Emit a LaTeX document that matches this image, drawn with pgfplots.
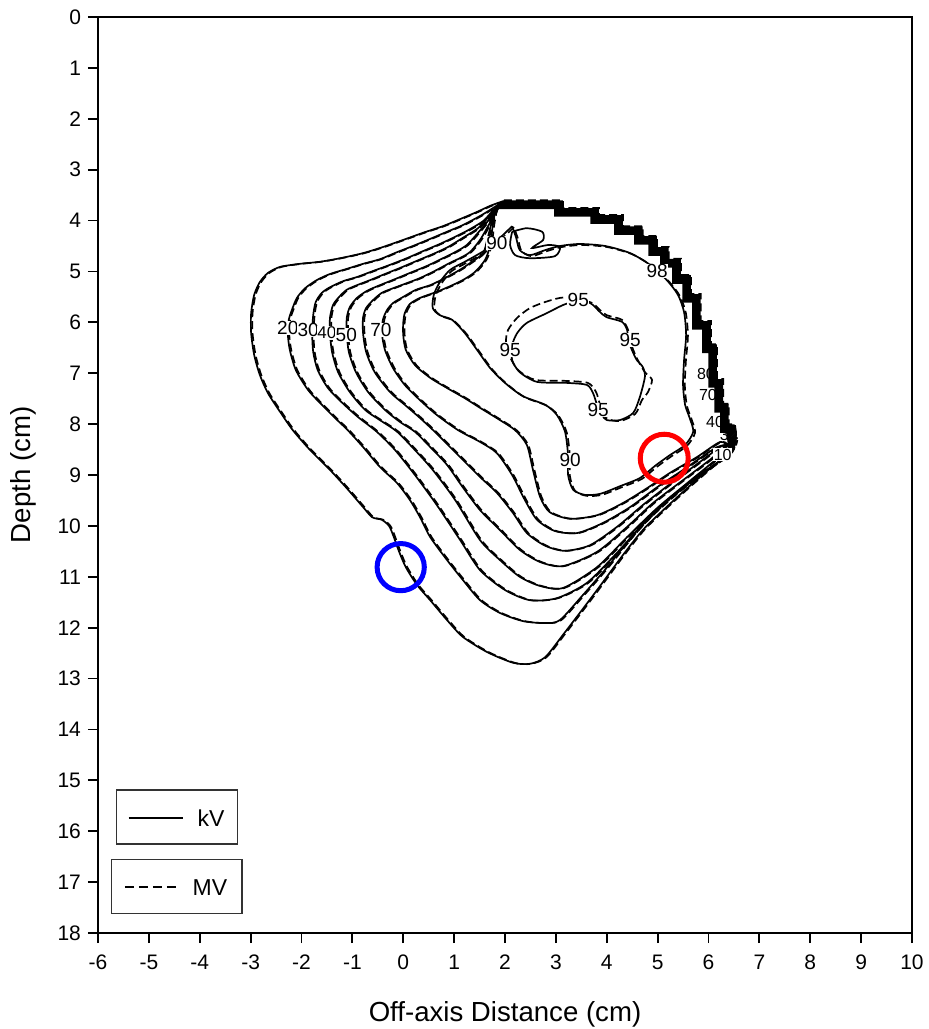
\documentclass[border=0pt]{standalone}
\usepackage{fontspec}
\setmainfont{Liberation Sans}
\usepackage{pgfplots}
\usepackage{pgfplotstable}
\pgfplotsset{compat=1.18}
\tikzset{
  kv/.style={black, line width=0.85pt, smooth, tension=0.45},
  mv/.style={black, line width=0.85pt, smooth, tension=0.45, dash pattern=on 4pt off 2pt},
  st/.style={black, line width=0.8pt},
  lab/.style={fill=white, inner sep=0.3pt, font=\fontsize{9.5}{10}\selectfont},
  rlab/.style={inner sep=0pt, font=\fontsize{8}{8}\selectfont},
}

\pgfplotstableread{
x y
1.96 3.62
3.12 3.62
3.12 3.77
3.83 3.77
3.83 3.91
4.30 3.91
4.30 4.13
4.69 4.13
4.69 4.32
4.97 4.32
4.97 4.54
5.20 4.54
5.20 4.77
5.44 4.77
5.44 5.09
5.64 5.09
5.64 5.46
5.83 5.46
5.83 5.99
6.03 5.99
6.03 6.45
6.15 6.45
6.15 7.13
6.27 7.13
6.27 7.62
6.38 7.62
6.38 8.02
6.50 8.02
6.54 8.31
}\stairs

\pgfplotstableread{
x y
1.96 3.62
1.71 3.71
1.45 3.83
1.12 3.97
0.78 4.11
0.39 4.24
0.00 4.38
-0.40 4.52
-0.79 4.64
-1.24 4.74
-1.64 4.81
-2.03 4.85
-2.42 4.91
-2.66 5.03
-2.82 5.21
-2.93 5.46
-2.99 5.82
-2.99 6.21
-2.93 6.64
-2.82 7.03
-2.66 7.39
-2.42 7.76
-2.17 8.12
-1.83 8.51
-1.44 8.90
-1.11 9.26
-0.79 9.63
-0.61 9.83
-0.42 9.88
-0.28 10.00
-0.20 10.18
-0.08 10.51
0.05 10.81
0.27 11.16
0.53 11.46
0.86 11.85
1.17 12.18
1.65 12.48
2.16 12.69
2.49 12.71
2.79 12.58
3.14 12.14
3.47 11.71
3.81 11.26
4.32 10.57
4.71 10.08
5.11 9.69
5.58 9.26
6.09 8.82
6.36 8.63
6.50 8.45
6.54 8.31
}\cten

\pgfplotstableread{
x y
1.94 3.64
1.74 3.77
1.51 3.91
1.17 4.09
0.86 4.22
0.53 4.36
0.19 4.50
-0.12 4.62
-0.46 4.76
-0.79 4.85
-1.11 4.95
-1.44 5.05
-1.70 5.17
-1.93 5.33
-2.09 5.52
-2.19 5.76
-2.25 5.95
-2.27 6.21
-2.23 6.54
-2.11 6.94
-1.87 7.33
-1.60 7.62
-1.34 7.88
-1.09 8.12
-0.79 8.45
-0.46 8.84
-0.12 9.16
0.13 9.49
0.33 9.83
0.53 10.22
0.86 10.67
1.17 11.06
1.51 11.46
1.90 11.71
2.35 11.87
2.79 11.91
3.08 11.85
3.53 11.36
4.01 10.81
4.60 10.08
5.19 9.49
5.77 9.04
6.17 8.76
6.44 8.55
6.52 8.33
}\ctwenty

\pgfplotstableread{
x y
1.92 3.65
1.74 3.83
1.57 4.01
1.31 4.17
1.06 4.30
0.72 4.46
0.39 4.60
0.07 4.74
-0.26 4.87
-0.59 4.99
-0.91 5.11
-1.18 5.19
-1.44 5.31
-1.60 5.42
-1.72 5.60
-1.77 5.86
-1.79 6.21
-1.77 6.58
-1.68 6.94
-1.48 7.29
-1.20 7.58
-0.89 7.86
-0.52 8.15
-0.16 8.51
0.23 9.00
0.66 9.59
1.12 10.28
1.51 10.87
2.00 11.26
2.49 11.46
3.02 11.42
3.61 11.12
4.20 10.53
4.79 9.88
5.38 9.35
5.97 8.90
6.40 8.59
6.50 8.35
}\cthirty

\pgfplotstableread{
x y
1.90 3.67
1.71 3.89
1.47 4.15
1.17 4.34
0.88 4.52
0.58 4.66
0.27 4.79
-0.06 4.93
-0.36 5.05
-0.65 5.17
-0.91 5.27
-1.11 5.36
-1.26 5.50
-1.38 5.66
-1.44 5.91
-1.44 6.21
-1.40 6.58
-1.28 6.98
-1.05 7.37
-0.75 7.72
-0.46 7.92
-0.12 8.15
0.23 8.51
0.58 8.90
1.02 9.49
1.51 10.28
1.90 10.67
2.29 11.00
2.69 11.18
3.14 11.22
3.81 10.81
4.40 10.22
4.99 9.65
5.58 9.16
6.07 8.76
6.36 8.51
6.48 8.37
}\cforty

\pgfplotstableread{
x y
1.88 3.69
1.71 3.95
1.47 4.24
1.25 4.48
1.02 4.62
0.78 4.74
0.47 4.89
0.13 5.03
-0.16 5.15
-0.46 5.27
-0.71 5.38
-0.91 5.52
-1.05 5.70
-1.11 5.91
-1.11 6.21
-1.07 6.58
-0.93 6.98
-0.69 7.37
-0.36 7.72
-0.06 7.96
0.23 8.15
0.53 8.45
0.86 8.80
1.17 9.24
1.51 9.69
1.90 10.08
2.29 10.47
2.69 10.71
3.14 10.79
3.81 10.51
4.40 10.02
4.91 9.55
5.50 9.10
6.03 8.70
6.32 8.45
6.46 8.39
}\cfifty

\pgfplotstableread{
x y
1.86 3.71
1.71 4.03
1.51 4.38
1.31 4.62
1.11 4.74
0.92 4.83
0.62 4.99
0.33 5.13
0.07 5.23
-0.20 5.33
-0.42 5.42
-0.59 5.56
-0.73 5.72
-0.79 5.91
-0.79 6.21
-0.73 6.58
-0.56 6.98
-0.26 7.37
0.03 7.62
0.33 7.88
0.62 8.15
0.92 8.45
1.21 8.74
1.51 9.04
1.84 9.35
2.16 9.75
2.43 10.14
2.79 10.39
3.18 10.49
3.67 10.38
4.20 10.02
4.71 9.59
5.24 9.18
5.89 8.70
6.26 8.43
6.44 8.41
}\csixty

\pgfplotstableread{
x y
1.84 3.73
1.74 4.03
1.65 4.38
1.57 4.64
1.35 4.81
1.11 4.97
0.82 5.13
0.53 5.27
0.25 5.36
0.00 5.50
-0.20 5.62
-0.32 5.76
-0.40 5.95
-0.42 6.21
-0.36 6.54
-0.20 6.90
0.03 7.23
0.33 7.53
0.66 7.82
1.08 8.12
1.51 8.35
1.84 8.57
2.14 9.00
2.39 9.49
2.63 9.88
2.98 10.10
3.42 10.14
3.93 9.94
4.46 9.63
4.99 9.24
5.50 8.90
6.17 8.45
6.42 8.43
}\cseventy

\pgfplotstableread{
x y
1.82 3.75
1.76 4.09
1.71 4.48
1.61 4.77
1.41 5.01
1.17 5.17
0.92 5.29
0.66 5.40
0.33 5.52
0.13 5.64
0.03 5.82
0.00 6.01
0.00 6.25
0.05 6.54
0.23 6.84
0.53 7.09
0.86 7.29
1.21 7.49
1.51 7.68
1.90 7.92
2.20 8.12
2.43 8.41
2.55 8.90
2.69 9.43
2.88 9.73
3.28 9.86
3.81 9.79
4.32 9.55
4.79 9.26
5.24 8.96
5.77 8.65
6.23 8.35
6.40 8.45
}\ceighty

\pgfplotstableread{
x y
2.14 4.11
1.90 4.34
1.61 4.58
1.21 4.81
0.92 4.97
0.72 5.21
0.60 5.46
0.58 5.72
0.72 5.86
0.96 5.95
1.21 6.21
1.45 6.54
1.71 6.90
2.00 7.19
2.35 7.45
2.79 7.62
3.02 7.82
3.18 8.15
3.24 8.61
3.24 9.00
3.34 9.29
3.57 9.39
3.87 9.37
4.26 9.22
4.65 9.06
4.95 8.82
5.24 8.61
5.54 8.41
5.70 8.15
5.63 7.88
5.54 7.62
5.50 7.23
5.52 6.74
5.56 6.25
5.52 5.80
5.40 5.46
5.18 5.17
4.85 4.87
4.46 4.64
3.97 4.50
3.47 4.46
3.08 4.50
2.79 4.58
2.49 4.68
2.29 4.58
2.22 4.34
2.14 4.11
}\cninety

\pgfplotstableread{
x y
2.14 4.22
2.43 4.15
2.73 4.22
2.75 4.38
2.53 4.54
2.85 4.48
3.08 4.52
2.98 4.70
2.49 4.74
2.20 4.68
2.10 4.48
2.14 4.22
}\island

\pgfplotstableread{
x y
3.44 5.56
3.14 5.66
2.82 5.82
2.43 6.01
2.24 6.21
2.14 6.45
2.14 6.74
2.29 6.98
2.63 7.17
3.22 7.19
3.61 7.23
3.73 7.39
3.81 7.62
3.91 7.82
4.00 7.92
4.26 7.92
4.52 7.78
4.65 7.47
4.75 7.07
4.71 6.88
4.59 6.74
4.52 6.60
4.42 6.35
4.40 6.15
4.30 5.99
4.00 5.90
3.87 5.80
3.73 5.66
3.63 5.60
3.44 5.56
}\cninetyfive

\pgfplotstableread{
x y
3.38 5.50
3.08 5.52
2.79 5.60
2.49 5.72
2.24 5.91
2.06 6.15
2.02 6.39
2.10 6.68
2.26 6.94
2.59 7.13
3.18 7.15
3.63 7.19
3.79 7.37
3.87 7.62
3.99 7.88
4.26 7.94
4.56 7.80
4.69 7.53
4.81 7.37
4.89 7.13
4.75 6.98
4.61 6.74
4.52 6.54
4.46 6.35
4.42 6.15
4.30 5.95
4.00 5.86
3.87 5.76
3.71 5.62
3.38 5.50
}\mvninetyfive

\begin{document}
\begin{tikzpicture}
\begin{axis}[
  scale only axis,
  width=407pt, height=458pt,
  xmin=-6, xmax=10, ymin=0, ymax=18,
  y dir=reverse,
  xtick={-6,-5,...,10}, ytick={0,1,...,18},
  tick align=outside, major tick length=5pt,
  xtick pos=left, ytick pos=left,
  axis line style={line width=0.9pt},
  every tick/.style={black, line width=0.9pt},
  /pgf/number format/assume math mode=true,
  tick label style={font=\fontsize{10.5}{12}\selectfont},
  xticklabel style={yshift=-2.5pt},
  label style={font=\fontsize{13.8}{16}\selectfont},
  xlabel={Off-axis Distance (cm)},
  ylabel={Depth (cm)},
  xlabel style={at={(axis description cs:0.5,-0.089)}, anchor=center},
  ylabel style={at={(axis description cs:-0.092,0.5)}, anchor=center},
]
% staircase band (shared edge of the 10-80 % lines)
\addplot[st] table {\stairs};
\addplot[st, xshift=-0.5pt, yshift=-0.5pt] table {\stairs};
\addplot[st, xshift=-1pt, yshift=-1pt] table {\stairs};
\addplot[st, xshift=-1.5pt, yshift=-1.5pt] table {\stairs};
\addplot[st, xshift=-2pt, yshift=-2pt] table {\stairs};
\addplot[st, xshift=-2.5pt, yshift=-2.5pt] table {\stairs};
\addplot[st, xshift=-3pt, yshift=-3pt] table {\stairs};
\addplot[st, xshift=-3.5pt, yshift=-3.5pt] table {\stairs};
\addplot[st, dash pattern=on 4pt off 2pt, xshift=0.5pt, yshift=0.5pt] table {\stairs};
% MV (dashed)
\addplot[mv, xshift=0.7pt] table {\cten};
\addplot[mv, xshift=0.7pt] table {\ctwenty};
\addplot[mv, xshift=0.7pt] table {\cthirty};
\addplot[mv, xshift=0.7pt] table {\cforty};
\addplot[mv, xshift=0.7pt] table {\cfifty};
\addplot[mv, xshift=0.7pt] table {\csixty};
\addplot[mv, xshift=0.7pt] table {\cseventy};
\addplot[mv, xshift=0.7pt] table {\ceighty};
\addplot[mv, xshift=0.9pt, yshift=-0.5pt] table {\cninety};
\addplot[mv] table {\mvninetyfive};
% kV (solid)
\addplot[kv] table {\cten};
\addplot[kv] table {\ctwenty};
\addplot[kv] table {\cthirty};
\addplot[kv] table {\cforty};
\addplot[kv] table {\cfifty};
\addplot[kv] table {\csixty};
\addplot[kv] table {\cseventy};
\addplot[kv] table {\ceighty};
\addplot[kv] table {\cninety};
\addplot[kv] table {\island};
\addplot[kv] table {\cninetyfive};
% contour labels
\node[lab] at (axis cs:-2.27,6.11) {20};
\node[lab] at (axis cs:-1.87,6.15) {30};
\node[lab, font=\fontsize{8.5}{9}\selectfont] at (axis cs:-1.50,6.21) {40};
\node[lab] at (axis cs:-1.12,6.25) {50};
\node[lab] at (axis cs:-0.44,6.15) {70};
\node[lab] at (axis cs:1.84,4.44) {90};
\node[lab] at (axis cs:4.99,4.99) {98};
\node[lab] at (axis cs:3.44,5.56) {95};
\node[lab] at (axis cs:2.10,6.54) {95};
\node[lab] at (axis cs:4.46,6.35) {95};
\node[lab] at (axis cs:3.83,7.72) {95};
\node[lab] at (axis cs:3.28,8.71) {90};
\node[rlab] at (axis cs:5.95,7.02) {80};
\node[rlab] at (axis cs:5.99,7.42) {70};
\node[rlab] at (axis cs:6.13,7.95) {40};
\node[rlab] at (axis cs:6.40,8.22) {30};
\node[rlab, fill=white, inner sep=0.3pt] at (axis cs:6.28,8.60) {10};
% legend boxes
\draw[black!80, line width=0.55pt, fill=white] (axis cs:-5.63,15.19) rectangle (axis cs:-3.25,16.25);
\draw[black, line width=0.8pt] (axis cs:-5.40,15.74) -- (axis cs:-4.32,15.74);
\node[font=\fontsize{11.5}{13}\selectfont] at (axis cs:-3.78,15.74) {kV};
\draw[black!80, line width=0.55pt, fill=white] (axis cs:-5.73,16.55) rectangle (axis cs:-3.17,17.61);
\draw[black, line width=0.8pt, dash pattern=on 4.5pt off 2.5pt] (axis cs:-5.47,17.10) -- (axis cs:-4.37,17.10);
\node[font=\fontsize{11.5}{13}\selectfont] at (axis cs:-3.80,17.10) {MV};
% highlight circles
\draw[red, line width=2.5pt] (axis cs:5.13,8.67) circle[radius=12pt];
\draw[blue, line width=2.5pt] (axis cs:-0.05,10.81) circle[radius=11.8pt];
\end{axis}
\pgfresetboundingbox
\path ([xshift=-49pt,yshift=-48pt]current axis.south west) rectangle ([xshift=8.5pt,yshift=8.5pt]current axis.north east);
\end{tikzpicture}
\end{document}
